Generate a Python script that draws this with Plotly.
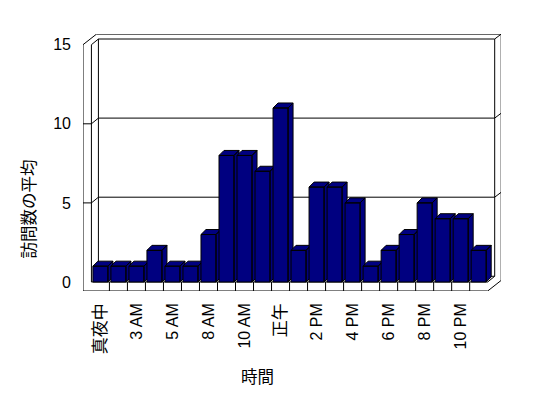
import plotly.graph_objects as go

# ---- data ----
categories = ["真夜中", "1 AM", "3 AM", "4 AM", "5 AM", "7 AM", "8 AM", "9 AM",
              "10 AM", "11 AM", "正午", "1 PM", "2 PM", "3 PM", "4 PM", "5 PM",
              "6 PM", "7 PM", "8 PM", "9 PM", "10 PM", "11 PM"]
avg_visits = [1, 1, 1, 2, 1, 1, 3, 8, 8, 7, 11, 2, 6, 6, 5, 1, 2, 3, 5, 4, 4, 2]
y_ticks = [0, 5, 10, 15]
grid_vals = [5, 10]
x_title = "時間"
y_title = "訪問数の平均"

# ---- geometry (pixel-based styling converted to data units) ----
W, H = 548, 398
ML, MR, MT, MB = 83.3, 47.0, 34.3, 107.0
PX_X = 18.0      # px per category
PX_Y = 15.8      # px per y unit
n = len(categories)
xL, xR = -0.5, n - 0.5
xO = xL - 8.4 / PX_X
yT = max(y_ticks)
yB = -9.0 / PX_Y
D1 = (7.0 / PX_X, 5.7 / PX_Y)
D2 = (13.5 / PX_X, 10.6 / PX_Y)
x_range = [xO, xO + (W - ML - MR) / PX_X]
y_range = [yB, yB + (H - MT - MB) / PX_Y]
bar_half = 7.5 / PX_X
BD = (5.0 / PX_X, 5.0 / PX_Y)
NAVY = "#000080"

fig = go.Figure()

# frame lines
fx, fy = [], []
def seg(pts):
    for p in pts:
        fx.append(p[0]); fy.append(p[1])
    fx.append(None); fy.append(None)

seg([(xO, yB), (xO, yT), (xO + D2[0], yT + D2[1]), (xR + D2[0], yT + D2[1]),
     (xR + D2[0], yB + D2[1]), (xR, yB), (xO, yB)])
seg([(xL, yT), (xL, 0)])
seg([(xL, yT), (xL + D1[0], yT + D1[1]), (xR + D1[0], yT + D1[1]), (xR + D2[0], yT + D2[1])])
seg([(xL + D1[0], yT + D1[1]), (xL + D1[0], D1[1])])
seg([(xR + D1[0], yT + D1[1]), (xR + D1[0], D1[1])])
seg([(xL, 0), (xR, 0), (xR + D1[0], D1[1]), (xL + D1[0], D1[1])])
for k in range(1, n):
    seg([(xL + k, 0), (xL + k, yB)])
for v in grid_vals:
    seg([(xO, v), (xL, v), (xL + D1[0], v + D1[1]), (xR + D1[0], v + D1[1]),
         (xR + D2[0], v + D2[1])])

fig.add_trace(go.Scatter(x=fx, y=fy, mode="lines", line=dict(color="black", width=1),
                         hoverinfo="skip", showlegend=False))

# 3D bars, painted left to right
for i, v in enumerate(avg_visits):
    x0, x1 = i - bar_half, i + bar_half
    bx, by = BD
    px = [x0, x0, x1, x1, x0, None,
          x0, x0 + bx, x1 + bx, x1, x0, None,
          x1, x1, x1 + bx, x1 + bx, x1]
    py = [0, v, v, 0, 0, None,
          v, v + by, v + by, v, v, None,
          0, v, v + by, by, 0]
    fig.add_trace(go.Scatter(x=px, y=py, mode="lines", fill="toself", fillcolor=NAVY,
                             line=dict(color="black", width=1), hoverinfo="skip",
                             showlegend=False, name=categories[i]))

font_family = "Liberation Sans, Noto Sans CJK JP, sans-serif"
tick_idx = list(range(0, n, 2))


def tick_label(s):
    if s.isascii():
        return s
    return "<span style='font-size:17px'>" + s + "</span>"


fig.update_layout(
    width=W, height=H,
    margin=dict(l=ML, r=MR, t=MT, b=MB, pad=0),
    paper_bgcolor="white", plot_bgcolor="white",
    font=dict(family=font_family, size=16, color="black"),
    xaxis=dict(range=x_range, tickvals=tick_idx,
               ticktext=[tick_label(categories[i]) for i in tick_idx],
               tickangle=-90, showgrid=False, zeroline=False, showline=False, ticks="",
               ticklabelstandoff=8, fixedrange=True),
    yaxis=dict(range=y_range, tickvals=y_ticks, showgrid=False, zeroline=False,
               showline=False, ticks="", ticklabelstandoff=11, fixedrange=True),
    annotations=[
        dict(text=y_title, textangle=-90, showarrow=False, xref="paper", yref="paper",
             x=(29 - ML) / (W - ML - MR), y=(H - MB - 209) / (H - MT - MB),
             xanchor="center", yanchor="middle", font=dict(size=16.5)),
        dict(text=x_title, showarrow=False, xref="paper", yref="paper",
             x=(258 - ML) / (W - ML - MR), y=(H - MB - 377) / (H - MT - MB),
             xanchor="center", yanchor="middle", font=dict(size=16.5)),
    ],
)

fig.write_html("out.html", config={"displayModeBar": False},
               post_script="document.body.style.margin='0';document.body.style.overflow='hidden';")
